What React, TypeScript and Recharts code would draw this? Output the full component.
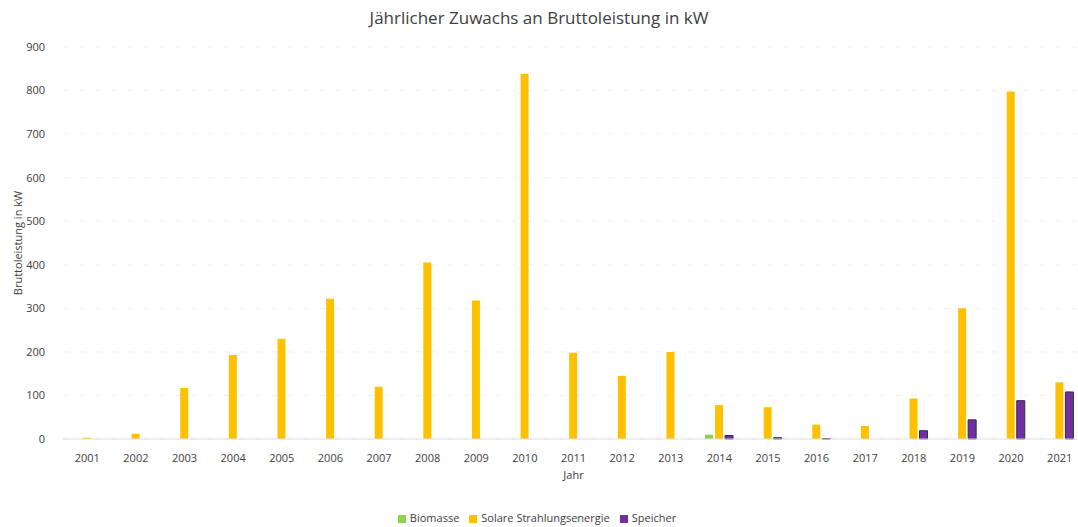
import { BarChart, Bar, XAxis, YAxis, CartesianGrid, Legend } from 'recharts'

const years = ['2001', '2002', '2003', '2004', '2005', '2006', '2007', '2008', '2009', '2010', '2011',
  '2012', '2013', '2014', '2015', '2016', '2017', '2018', '2019', '2020', '2021']
const biomasse = [0, 0, 0, 0, 0, 0, 0, 0, 0, 0, 0, 0, 0, 10, 0, 0, 0, 0, 0, 0, 0]
const solar = [3, 12, 117, 193, 230, 322, 120, 405, 318, 838, 198, 145, 200, 78, 73, 33, 30, 93, 300, 798, 130]
const speicher = [0, 0, 0, 0, 0, 0, 0, 0, 0, 0, 0, 0, 0, 8, 3, 1, 0, 19, 44, 88, 108]
const yTicks = [0, 100, 200, 300, 400, 500, 600, 700, 800, 900]

const chartData = years.map((y, i) => ({
  jahr: y,
  Biomasse: biomasse[i],
  'Solare Strahlungsenergie': solar[i],
  Speicher: speicher[i],
}))

const font = '"Open Sans", "Liberation Sans", sans-serif'

export default function App() {
  return (
    <div style={{ position: 'fixed', left: 0, top: 0, width: 1078, height: 527, overflow: 'hidden', background: '#fff', fontFamily: font }}>
      <div style={{ position: 'absolute', top: 6, left: 0, width: 1078, textAlign: 'center', fontSize: 17, color: '#404040' }}>
        Jährlicher Zuwachs an Bruttoleistung in kW
      </div>
      <BarChart
        width={1100}
        height={527}
        data={chartData}
        margin={{ top: 47, right: 16, left: 0, bottom: 2 }}
        barSize={8}
        barGap={2}
      >
        <CartesianGrid vertical={false} stroke="#f0f0f0" strokeDasharray="6 10" />
        <XAxis
          dataKey="jahr"
          height={71}
          tickLine={false}
          axisLine={{ stroke: '#e0e0e0' }}
          tick={{ fill: '#404040', fontSize: 11, fontFamily: font }}
          tickMargin={9}
          interval={0}
          label={{ value: 'Jahr', position: 'insideTop', offset: 32, fill: '#404040', fontSize: 11, fontFamily: font }}
        />
        <YAxis
          width={63}
          domain={[0, 900]}
          ticks={yTicks}
          tickLine={false}
          axisLine={false}
          tick={{ fill: '#404040', fontSize: 11, fontFamily: font }}
          tickMargin={12}
          label={{ value: 'Bruttoleistung in kW', angle: -90, position: 'insideLeft', offset: 18, fill: '#404040', fontSize: 11, fontFamily: font, style: { textAnchor: 'middle' } }}
        />
        <Legend
          iconType="square"
          iconSize={8}
          wrapperStyle={{ fontSize: 11, fontFamily: font }}
          formatter={(value) => <span style={{ color: '#404040' }}>{value}</span>}
        />
        <Bar dataKey="Biomasse" fill="#92d050" isAnimationActive={false} />
        <Bar dataKey="Solare Strahlungsenergie" fill="#ffc000" isAnimationActive={false} />
        <Bar dataKey="Speicher" fill="#7030a0" stroke="#2e2a4a" strokeWidth={1} isAnimationActive={false} />
      </BarChart>
    </div>
  )
}
